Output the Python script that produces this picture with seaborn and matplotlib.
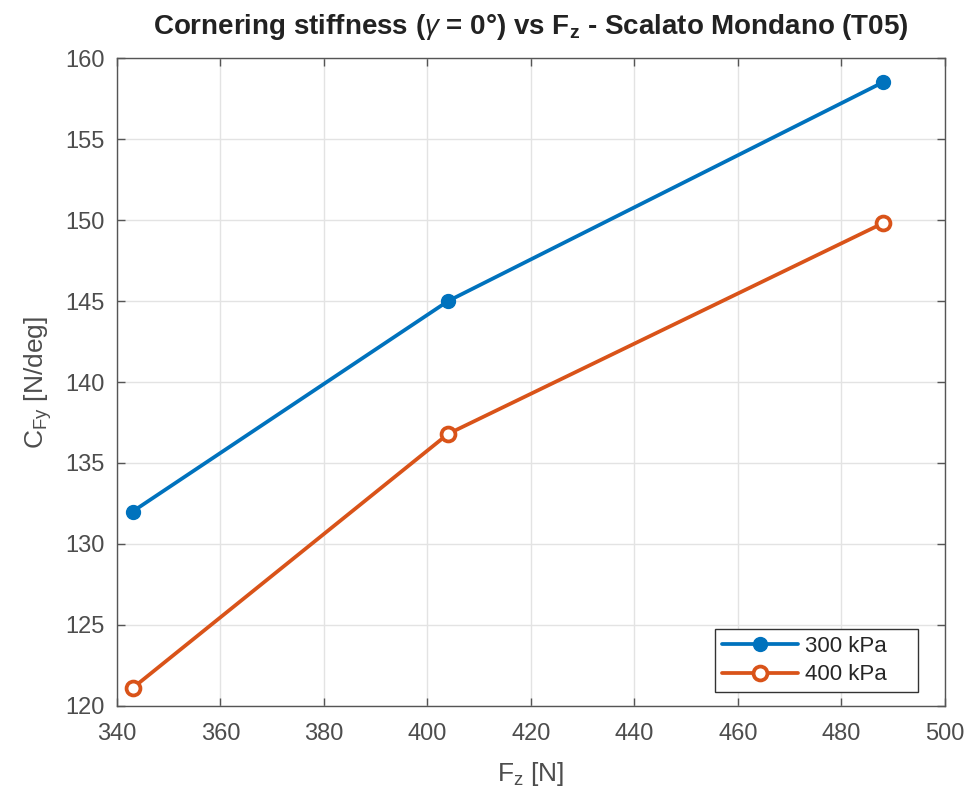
import matplotlib
matplotlib.use("Agg")
import matplotlib.pyplot as plt
import seaborn as sns
import pandas as pd

# Vertical load [N] and cornering stiffness [N/deg] at two inflation pressures
fz = [343, 404, 488]
cfy_300 = [132.0, 145.0, 158.5]
cfy_400 = [121.1, 136.8, 149.8]
series_labels = ["300 kPa", "400 kPa"]
x_ticks = [340, 360, 380, 400, 420, 440, 460, 480, 500]
y_ticks = [120, 125, 130, 135, 140, 145, 150, 155, 160]

sns.set_style("white")
plt.rcParams["font.family"] = ["Liberation Sans", "DejaVu Sans"]
plt.rcParams["mathtext.fontset"] = "custom"
plt.rcParams["mathtext.rm"] = "Liberation Sans"
plt.rcParams["mathtext.it"] = "Liberation Sans:italic"
plt.rcParams["mathtext.bf"] = "Liberation Sans:bold"

df = pd.DataFrame({
    "Fz": fz * 2,
    "CFy": cfy_300 + cfy_400,
    "p": [series_labels[0]] * len(fz) + [series_labels[1]] * len(fz),
})

blue = "#0072BD"
orange = "#D95319"
tick_col = "#4d4d4d"

fig = plt.figure(figsize=(9.7, 7.97), dpi=100)
ax = fig.add_axes([0.1206, 0.1142, 0.8536, 0.8130])

# trailing spaces give the legend box its wide right margin
sns.lineplot(data=df[df.p == series_labels[0]], x="Fz", y="CFy", ax=ax,
             color=blue, lw=2.7, marker="o", markersize=10,
             markeredgecolor=blue, markerfacecolor=blue, markeredgewidth=1,
             label=series_labels[0] + "    ")
sns.lineplot(data=df[df.p == series_labels[1]], x="Fz", y="CFy", ax=ax,
             color=orange, lw=2.7, marker="o", markersize=10,
             markeredgecolor=orange, markerfacecolor="white", markeredgewidth=2.7,
             label=series_labels[1] + "    ")

ax.set_xlim(340, 500)
ax.set_ylim(120, 160)
ax.set_xticks(x_ticks)
ax.set_yticks(y_ticks)
ax.grid(True, color="#e3e3e3", lw=1)
ax.set_axisbelow(True)
ax.tick_params(direction="in", length=6, width=1, colors="#555555",
               labelsize=17, labelcolor=tick_col, top=True, right=True,
               left=True, bottom=True)
ax.tick_params(axis="x", pad=12)
ax.tick_params(axis="y", pad=9)
for s in ax.spines.values():
    s.set_color("#555555")
    s.set_linewidth(1)

ax.set_xlabel(r"F$_\mathrm{z}$ [N]", fontsize=19, color=tick_col, labelpad=11)
ax.set_ylabel(r"C$_\mathrm{Fy}$ [N/deg]", fontsize=19, color=tick_col, labelpad=8)
ax.set_title(r"Cornering stiffness ($\gamma$ = 0°) vs F$_\mathbf{z}$ - Scalato Mondano (T05)",
             fontsize=20, fontweight="bold", color="#222222", pad=17)

leg = ax.legend(loc="lower right", fontsize=16, frameon=True, fancybox=False,
                edgecolor="#333333", framealpha=1, borderpad=0.3,
                labelspacing=0.35, handlelength=3.45, handletextpad=0.3,
                borderaxespad=0, bbox_to_anchor=(0.9674, 0.0216))
leg.get_frame().set_linewidth(1)
for t in leg.get_texts():
    t.set_color("#262626")

fig.savefig("out.png", dpi=100)
